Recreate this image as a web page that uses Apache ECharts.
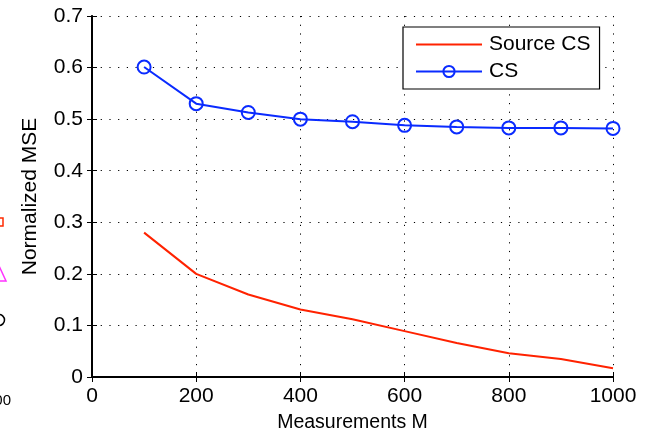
<!DOCTYPE html>
<html>
<head>
<meta charset="utf-8">
<style>
  html, body { margin: 0; padding: 0; background: #fff; }
  #chart { width: 648px; height: 438px; }
</style>
<script src="https://cdn.jsdelivr.net/npm/echarts@6/dist/echarts.min.js"></script>
</head>
<body>
<div id="chart"></div>
<script>
// Number of measurements M
const measurements = [100, 200, 300, 400, 500, 600, 700, 800, 900, 1000];
// Normalized MSE per method
const sourceCS = [0.280, 0.200, 0.160, 0.131, 0.112, 0.089, 0.066, 0.046, 0.035, 0.017];
const plainCS = [0.601, 0.530, 0.513, 0.500, 0.495, 0.488, 0.485, 0.483, 0.483, 0.482];

const FONT = "'Liberation Sans', Arial, Helvetica, sans-serif";
const gridDots = { color: '#000', width: 1, type: [1.2, 7.5] };
const RED = '#ff2200';
const BLUE = '#0a2bff';

const chart = echarts.init(document.getElementById('chart'), null, { renderer: 'canvas' });

// Top and right axes only close the box and carry inward ticks
const boxAxis = {
  axisLine: { show: true, lineStyle: { color: '#000', width: 1.5 } },
  axisTick: { show: true, inside: true, length: 5, lineStyle: { color: '#000', width: 1 } },
  axisLabel: { show: false },
  splitLine: { show: false }
};

chart.setOption({
  backgroundColor: '#fff',
  animation: false,
  textStyle: { fontFamily: FONT },
  grid: { left: 92, right: 35, top: 16, bottom: 59 },
  legend: {
    left: 403, top: 27,
    orient: 'vertical',
    backgroundColor: '#fff',
    borderColor: '#000', borderWidth: 1.2,
    padding: [7, 9, 7, 12],
    itemWidth: 66, itemHeight: 14, itemGap: 6,
    textStyle: { fontFamily: FONT, fontSize: 21, color: '#000', padding: [0, 0, 0, 2] },
    data: [
      { name: 'Source CS', itemStyle: { opacity: 0 } },
      { name: 'CS' }
    ]
  },
  xAxis: [{
    type: 'value', min: 0, max: 1000, interval: 200,
    name: 'Measurements M', nameLocation: 'middle', nameGap: 36,
    nameTextStyle: { fontFamily: FONT, fontSize: 19.5, color: '#000' },
    axisLine: { lineStyle: { color: '#000', width: 2 } },
    axisTick: { inside: true, length: 5, lineStyle: { color: '#000' } },
    axisLabel: { fontFamily: FONT, fontSize: 21, color: '#000', margin: 9, formatter: v => String(v) },
    splitLine: { show: true, lineStyle: gridDots }
  }, Object.assign({ type: 'value', min: 0, max: 1000, interval: 200, position: 'top' }, boxAxis)],
  yAxis: [{
    type: 'value', min: 0, max: 0.7, interval: 0.1,
    name: 'Normalized MSE', nameLocation: 'middle', nameGap: 51,
    nameTextStyle: { fontFamily: FONT, fontSize: 21, color: '#000' },
    axisLine: { show: true, lineStyle: { color: '#000', width: 2 } },
    axisTick: { show: true, inside: true, length: 5, lineStyle: { color: '#000' } },
    axisLabel: {
      fontFamily: FONT, fontSize: 21, color: '#000', margin: 9,
      formatter: v => (v === 0 ? '0' : v.toFixed(1))
    },
    splitLine: { show: true, lineStyle: gridDots }
  }, Object.assign({ type: 'value', min: 0, max: 0.7, interval: 0.1, position: 'right' }, boxAxis)],
  series: [{
    name: 'Source CS', type: 'line',
    data: measurements.map((m, i) => [m, sourceCS[i]]),
    showSymbol: false,
    lineStyle: { color: RED, width: 2 },
    itemStyle: { color: RED },
    z: 3
  }, {
    name: 'CS', type: 'line',
    data: measurements.map((m, i) => [m, plainCS[i]]),
    symbol: 'circle', symbolSize: 13,
    lineStyle: { color: BLUE, width: 2 },
    itemStyle: { color: 'rgba(255,255,255,0)', borderColor: BLUE, borderWidth: 2 },
    z: 3
  }],
  graphic: [
    // clipped markers and label from the neighbouring panel at the left edge
    { type: 'rect', shape: { x: -5, y: 218, width: 8, height: 8 },
      style: { fill: 'none', stroke: '#ff2a00', lineWidth: 1.5 } },
    { type: 'polygon', shape: { points: [[0, 268], [-6, 281], [6, 281]] },
      style: { fill: 'none', stroke: '#ff33ff', lineWidth: 1.5 } },
    { type: 'circle', shape: { cx: -1, cy: 320, r: 5.5 },
      style: { fill: 'none', stroke: '#000', lineWidth: 1.5 } },
    { type: 'text', x: 11, y: 401,
      style: { text: '1000', font: "15px 'Liberation Sans', Arial", fill: '#000', textAlign: 'right', textVerticalAlign: 'middle' } }
  ]
});
</script>
</body>
</html>
